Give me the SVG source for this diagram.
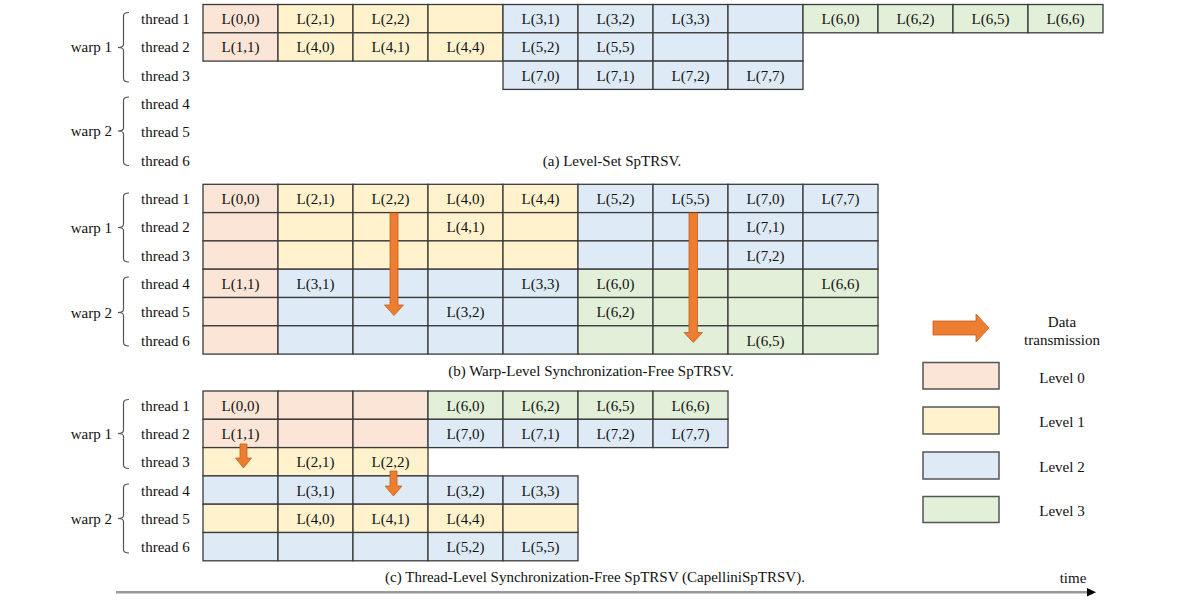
<svg xmlns="http://www.w3.org/2000/svg" width="1200" height="600" viewBox="0 0 1200 600">
<defs>
<style>
text{font-family:"Liberation Serif","Times New Roman",serif;font-size:15px;fill:#111}
.c{text-anchor:middle}
.th{text-anchor:start}
.wp{text-anchor:end}
rect{stroke:#3a3a3a;stroke-width:1.3}
.l0{fill:#FBE5D6}.l1{fill:#FFF2CC}.l2{fill:#DEEBF7}.l3{fill:#E2F0D9}
.lg{stroke:#555;stroke-width:1.5}
.br{fill:none;stroke:#555;stroke-width:1.2}
.ar{fill:#ED7D31;stroke:#C0601F;stroke-width:0.8}
</style>
</defs>
<rect width="1200" height="600" style="fill:#fff;stroke:none"/>

<!-- ===== (a) Level-Set ===== -->
<g id="a-labels">
<text class="wp" x="112" y="52">warp 1</text>
<path class="br" d="M129,12.5 Q123.5,12.5 123.5,16 L123.5,44.5 Q123.5,47.5 118,47.5 Q123.5,47.5 123.5,50.5 L123.5,78.5 Q123.5,82 129,82"/>
<text class="wp" x="112" y="136">warp 2</text>
<path class="br" d="M129,97 Q123.5,97 123.5,100.5 L123.5,128 Q123.5,131 118,131 Q123.5,131 123.5,134 L123.5,162 Q123.5,165.5 129,165.5"/>
<text class="th" x="141" y="24">thread 1</text>
<text class="th" x="141" y="52">thread 2</text>
<text class="th" x="141" y="80.5">thread 3</text>
<text class="th" x="141" y="109">thread 4</text>
<text class="th" x="141" y="137">thread 5</text>
<text class="th" x="141" y="165.5">thread 6</text>
</g>
<g id="a-grid">
<rect class="l0" x="203" y="4.5" width="75" height="28.3"/>
<rect class="l1" x="278" y="4.5" width="75" height="28.3"/>
<rect class="l1" x="353" y="4.5" width="75" height="28.3"/>
<rect class="l1" x="428" y="4.5" width="75" height="28.3"/>
<rect class="l2" x="503" y="4.5" width="75" height="28.3"/>
<rect class="l2" x="578" y="4.5" width="75" height="28.3"/>
<rect class="l2" x="653" y="4.5" width="75" height="28.3"/>
<rect class="l2" x="728" y="4.5" width="75" height="28.3"/>
<rect class="l3" x="803" y="4.5" width="75" height="28.3"/>
<rect class="l3" x="878" y="4.5" width="75" height="28.3"/>
<rect class="l3" x="953" y="4.5" width="75" height="28.3"/>
<rect class="l3" x="1028" y="4.5" width="75" height="28.3"/>
<rect class="l0" x="203" y="32.8" width="75" height="28.3"/>
<rect class="l1" x="278" y="32.8" width="75" height="28.3"/>
<rect class="l1" x="353" y="32.8" width="75" height="28.3"/>
<rect class="l1" x="428" y="32.8" width="75" height="28.3"/>
<rect class="l2" x="503" y="32.8" width="75" height="28.3"/>
<rect class="l2" x="578" y="32.8" width="75" height="28.3"/>
<rect class="l2" x="653" y="32.8" width="75" height="28.3"/>
<rect class="l2" x="728" y="32.8" width="75" height="28.3"/>
<rect class="l2" x="503" y="61.1" width="75" height="28.3"/>
<rect class="l2" x="578" y="61.1" width="75" height="28.3"/>
<rect class="l2" x="653" y="61.1" width="75" height="28.3"/>
<rect class="l2" x="728" y="61.1" width="75" height="28.3"/>
<text class="c" x="240.5" y="24">L(0,0)</text>
<text class="c" x="315.5" y="24">L(2,1)</text>
<text class="c" x="390.5" y="24">L(2,2)</text>
<text class="c" x="540.5" y="24">L(3,1)</text>
<text class="c" x="615.5" y="24">L(3,2)</text>
<text class="c" x="690.5" y="24">L(3,3)</text>
<text class="c" x="840.5" y="24">L(6,0)</text>
<text class="c" x="915.5" y="24">L(6,2)</text>
<text class="c" x="990.5" y="24">L(6,5)</text>
<text class="c" x="1065.5" y="24">L(6,6)</text>
<text class="c" x="240.5" y="52.3">L(1,1)</text>
<text class="c" x="315.5" y="52.3">L(4,0)</text>
<text class="c" x="390.5" y="52.3">L(4,1)</text>
<text class="c" x="465.5" y="52.3">L(4,4)</text>
<text class="c" x="540.5" y="52.3">L(5,2)</text>
<text class="c" x="615.5" y="52.3">L(5,5)</text>
<text class="c" x="540.5" y="80.6">L(7,0)</text>
<text class="c" x="615.5" y="80.6">L(7,1)</text>
<text class="c" x="690.5" y="80.6">L(7,2)</text>
<text class="c" x="765.5" y="80.6">L(7,7)</text>
</g>
<text class="c" id="cap-a" x="612" y="165.5">(a) Level-Set SpTRSV.</text>

<!-- ===== (b) Warp-Level ===== -->
<g id="b-labels">
<text class="wp" x="112" y="233">warp 1</text>
<path class="br" d="M129,193 Q123.5,193 123.5,196.5 L123.5,224.5 Q123.5,227.5 118,227.5 Q123.5,227.5 123.5,230.5 L123.5,258.5 Q123.5,262 129,262"/>
<text class="wp" x="112" y="318">warp 2</text>
<path class="br" d="M129,277 Q123.5,277 123.5,280.5 L123.5,309.5 Q123.5,312.5 118,312.5 Q123.5,312.5 123.5,315.5 L123.5,342.5 Q123.5,346 129,346"/>
<text class="th" x="141" y="204">thread 1</text>
<text class="th" x="141" y="232.3">thread 2</text>
<text class="th" x="141" y="260.6">thread 3</text>
<text class="th" x="141" y="288.9">thread 4</text>
<text class="th" x="141" y="317.2">thread 5</text>
<text class="th" x="141" y="345.5">thread 6</text>
</g>
<g id="b-grid">
<!-- col0 -->
<rect class="l0" x="203" y="184.3" width="75" height="28.3"/>
<rect class="l0" x="203" y="212.6" width="75" height="28.3"/>
<rect class="l0" x="203" y="240.9" width="75" height="28.3"/>
<rect class="l0" x="203" y="269.2" width="75" height="28.3"/>
<rect class="l0" x="203" y="297.5" width="75" height="28.3"/>
<rect class="l0" x="203" y="325.8" width="75" height="28.3"/>
<!-- cols 1-4 -->
<rect class="l1" x="278" y="184.3" width="75" height="28.3"/>
<rect class="l1" x="278" y="212.6" width="75" height="28.3"/>
<rect class="l1" x="278" y="240.9" width="75" height="28.3"/>
<rect class="l2" x="278" y="269.2" width="75" height="28.3"/>
<rect class="l2" x="278" y="297.5" width="75" height="28.3"/>
<rect class="l2" x="278" y="325.8" width="75" height="28.3"/>
<rect class="l1" x="353" y="184.3" width="75" height="28.3"/>
<rect class="l1" x="353" y="212.6" width="75" height="28.3"/>
<rect class="l1" x="353" y="240.9" width="75" height="28.3"/>
<rect class="l2" x="353" y="269.2" width="75" height="28.3"/>
<rect class="l2" x="353" y="297.5" width="75" height="28.3"/>
<rect class="l2" x="353" y="325.8" width="75" height="28.3"/>
<rect class="l1" x="428" y="184.3" width="75" height="28.3"/>
<rect class="l1" x="428" y="212.6" width="75" height="28.3"/>
<rect class="l1" x="428" y="240.9" width="75" height="28.3"/>
<rect class="l2" x="428" y="269.2" width="75" height="28.3"/>
<rect class="l2" x="428" y="297.5" width="75" height="28.3"/>
<rect class="l2" x="428" y="325.8" width="75" height="28.3"/>
<rect class="l1" x="503" y="184.3" width="75" height="28.3"/>
<rect class="l1" x="503" y="212.6" width="75" height="28.3"/>
<rect class="l1" x="503" y="240.9" width="75" height="28.3"/>
<rect class="l2" x="503" y="269.2" width="75" height="28.3"/>
<rect class="l2" x="503" y="297.5" width="75" height="28.3"/>
<rect class="l2" x="503" y="325.8" width="75" height="28.3"/>
<!-- cols 5-8 -->
<rect class="l2" x="578" y="184.3" width="75" height="28.3"/>
<rect class="l2" x="578" y="212.6" width="75" height="28.3"/>
<rect class="l2" x="578" y="240.9" width="75" height="28.3"/>
<rect class="l3" x="578" y="269.2" width="75" height="28.3"/>
<rect class="l3" x="578" y="297.5" width="75" height="28.3"/>
<rect class="l3" x="578" y="325.8" width="75" height="28.3"/>
<rect class="l2" x="653" y="184.3" width="75" height="28.3"/>
<rect class="l2" x="653" y="212.6" width="75" height="28.3"/>
<rect class="l2" x="653" y="240.9" width="75" height="28.3"/>
<rect class="l3" x="653" y="269.2" width="75" height="28.3"/>
<rect class="l3" x="653" y="297.5" width="75" height="28.3"/>
<rect class="l3" x="653" y="325.8" width="75" height="28.3"/>
<rect class="l2" x="728" y="184.3" width="75" height="28.3"/>
<rect class="l2" x="728" y="212.6" width="75" height="28.3"/>
<rect class="l2" x="728" y="240.9" width="75" height="28.3"/>
<rect class="l3" x="728" y="269.2" width="75" height="28.3"/>
<rect class="l3" x="728" y="297.5" width="75" height="28.3"/>
<rect class="l3" x="728" y="325.8" width="75" height="28.3"/>
<rect class="l2" x="803" y="184.3" width="75" height="28.3"/>
<rect class="l2" x="803" y="212.6" width="75" height="28.3"/>
<rect class="l2" x="803" y="240.9" width="75" height="28.3"/>
<rect class="l3" x="803" y="269.2" width="75" height="28.3"/>
<rect class="l3" x="803" y="297.5" width="75" height="28.3"/>
<rect class="l3" x="803" y="325.8" width="75" height="28.3"/>
<text class="c" x="240.5" y="204">L(0,0)</text>
<text class="c" x="315.5" y="204">L(2,1)</text>
<text class="c" x="390.5" y="204">L(2,2)</text>
<text class="c" x="465.5" y="204">L(4,0)</text>
<text class="c" x="540.5" y="204">L(4,4)</text>
<text class="c" x="615.5" y="204">L(5,2)</text>
<text class="c" x="690.5" y="204">L(5,5)</text>
<text class="c" x="765.5" y="204">L(7,0)</text>
<text class="c" x="840.5" y="204">L(7,7)</text>
<text class="c" x="465.5" y="232.3">L(4,1)</text>
<text class="c" x="765.5" y="232.3">L(7,1)</text>
<text class="c" x="765.5" y="260.6">L(7,2)</text>
<text class="c" x="240.5" y="288.9">L(1,1)</text>
<text class="c" x="315.5" y="288.9">L(3,1)</text>
<text class="c" x="540.5" y="288.9">L(3,3)</text>
<text class="c" x="615.5" y="288.9">L(6,0)</text>
<text class="c" x="840.5" y="288.9">L(6,6)</text>
<text class="c" x="465.5" y="317.2">L(3,2)</text>
<text class="c" x="615.5" y="317.2">L(6,2)</text>
<text class="c" x="765.5" y="345.5">L(6,5)</text>
</g>
<g id="b-arrows">
<polygon class="ar" points="390,213 398,213 398,305 403.5,305 394,315.5 384.5,305 390,305"/>
<polygon class="ar" points="689,213 697.5,213 697.5,332.5 702.5,332.5 693.3,342.5 684,332.5 689,332.5"/>
</g>
<text class="c" id="cap-b" x="591" y="376">(b) Warp-Level Synchronization-Free SpTRSV.</text>

<!-- ===== (c) Thread-Level ===== -->
<g id="c-labels">
<text class="wp" x="112" y="439">warp 1</text>
<path class="br" d="M129,399.5 Q123.5,399.5 123.5,403 L123.5,430.5 Q123.5,433.5 118,433.5 Q123.5,433.5 123.5,436.5 L123.5,465 Q123.5,468.5 129,468.5"/>
<text class="wp" x="112" y="524">warp 2</text>
<path class="br" d="M129,484 Q123.5,484 123.5,487.5 L123.5,515.5 Q123.5,518.5 118,518.5 Q123.5,518.5 123.5,521.5 L123.5,549.5 Q123.5,553 129,553"/>
<text class="th" x="141" y="410.7">thread 1</text>
<text class="th" x="141" y="439">thread 2</text>
<text class="th" x="141" y="467.3">thread 3</text>
<text class="th" x="141" y="495.6">thread 4</text>
<text class="th" x="141" y="523.9">thread 5</text>
<text class="th" x="141" y="552.2">thread 6</text>
</g>
<g id="c-grid">
<rect class="l0" x="203" y="391" width="75" height="28.3"/>
<rect class="l0" x="278" y="391" width="75" height="28.3"/>
<rect class="l0" x="353" y="391" width="75" height="28.3"/>
<rect class="l3" x="428" y="391" width="75" height="28.3"/>
<rect class="l3" x="503" y="391" width="75" height="28.3"/>
<rect class="l3" x="578" y="391" width="75" height="28.3"/>
<rect class="l3" x="653" y="391" width="75" height="28.3"/>
<rect class="l0" x="203" y="419.3" width="75" height="28.3"/>
<rect class="l0" x="278" y="419.3" width="75" height="28.3"/>
<rect class="l0" x="353" y="419.3" width="75" height="28.3"/>
<rect class="l2" x="428" y="419.3" width="75" height="28.3"/>
<rect class="l2" x="503" y="419.3" width="75" height="28.3"/>
<rect class="l2" x="578" y="419.3" width="75" height="28.3"/>
<rect class="l2" x="653" y="419.3" width="75" height="28.3"/>
<rect class="l1" x="203" y="447.6" width="75" height="28.3"/>
<rect class="l1" x="278" y="447.6" width="75" height="28.3"/>
<rect class="l1" x="353" y="447.6" width="75" height="28.3"/>
<rect class="l2" x="203" y="475.9" width="75" height="28.3"/>
<rect class="l2" x="278" y="475.9" width="75" height="28.3"/>
<rect class="l2" x="353" y="475.9" width="75" height="28.3"/>
<rect class="l2" x="428" y="475.9" width="75" height="28.3"/>
<rect class="l2" x="503" y="475.9" width="75" height="28.3"/>
<rect class="l1" x="203" y="504.2" width="75" height="28.3"/>
<rect class="l1" x="278" y="504.2" width="75" height="28.3"/>
<rect class="l1" x="353" y="504.2" width="75" height="28.3"/>
<rect class="l1" x="428" y="504.2" width="75" height="28.3"/>
<rect class="l1" x="503" y="504.2" width="75" height="28.3"/>
<rect class="l2" x="203" y="532.5" width="75" height="28.3"/>
<rect class="l2" x="278" y="532.5" width="75" height="28.3"/>
<rect class="l2" x="353" y="532.5" width="75" height="28.3"/>
<rect class="l2" x="428" y="532.5" width="75" height="28.3"/>
<rect class="l2" x="503" y="532.5" width="75" height="28.3"/>
<text class="c" x="240.5" y="410.7">L(0,0)</text>
<text class="c" x="465.5" y="410.7">L(6,0)</text>
<text class="c" x="540.5" y="410.7">L(6,2)</text>
<text class="c" x="615.5" y="410.7">L(6,5)</text>
<text class="c" x="690.5" y="410.7">L(6,6)</text>
<text class="c" x="240.5" y="439">L(1,1)</text>
<text class="c" x="465.5" y="439">L(7,0)</text>
<text class="c" x="540.5" y="439">L(7,1)</text>
<text class="c" x="615.5" y="439">L(7,2)</text>
<text class="c" x="690.5" y="439">L(7,7)</text>
<text class="c" x="315.5" y="467.3">L(2,1)</text>
<text class="c" x="390.5" y="467.3">L(2,2)</text>
<text class="c" x="315.5" y="495.6">L(3,1)</text>
<text class="c" x="465.5" y="495.6">L(3,2)</text>
<text class="c" x="540.5" y="495.6">L(3,3)</text>
<text class="c" x="315.5" y="523.9">L(4,0)</text>
<text class="c" x="390.5" y="523.9">L(4,1)</text>
<text class="c" x="465.5" y="523.9">L(4,4)</text>
<text class="c" x="465.5" y="552.2">L(5,2)</text>
<text class="c" x="540.5" y="552.2">L(5,5)</text>
</g>
<g id="c-arrows">
<polygon class="ar" points="240,444 247,444 247,458 251.5,458 243.5,468 235.5,458 240,458"/>
<polygon class="ar" points="390,471 397,471 397,486 402,486 393.5,496 385,486 390,486"/>
</g>
<text class="c" id="cap-c" x="595" y="582">(c) Thread-Level Synchronization-Free SpTRSV (CapelliniSpTRSV).</text>

<!-- ===== legend ===== -->
<g id="legend-arrow">
<polygon class="ar" points="933,321 976,321 976,314 989,328 976,342 976,335 933,335"/>
<text class="c" x="1062" y="327">Data</text>
<text class="c" x="1062" y="345">transmission</text>
</g>
<g id="legend-level0"><rect class="l0 lg" x="923" y="362.5" width="76" height="26.5"/><text class="c" x="1062" y="382.5">Level 0</text></g>
<g id="legend-level1"><rect class="l1 lg" x="923" y="407" width="76" height="27"/><text class="c" x="1062" y="427">Level 1</text></g>
<g id="legend-level2"><rect class="l2 lg" x="923" y="452" width="76" height="27"/><text class="c" x="1062" y="471.5">Level 2</text></g>
<g id="legend-level3"><rect class="l3 lg" x="923" y="496.5" width="76" height="26"/><text class="c" x="1062" y="516">Level 3</text></g>

<!-- ===== time axis ===== -->
<g id="time-axis">
<line x1="116" y1="592.3" x2="1088" y2="592.3" stroke="#999" stroke-width="2.5"/>
<polygon points="1087,588 1096,592.3 1087,596.6" fill="#000"/>
<text class="c" x="1073" y="583">time</text>
</g>
</svg>
